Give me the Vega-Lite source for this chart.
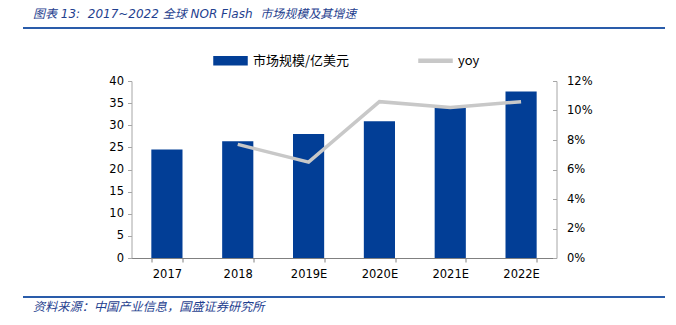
{
  "$schema": "https://vega.github.io/schema/vega-lite/v6.json",
  "padding": {"left": 22, "top": 8, "right": 8, "bottom": 4},
  "background": "white",
  "title": {
    "text": "图表 13:\u00a0 2017~2022 全球 NOR Flash\u00a0 市场规模及其增速",
    "anchor": "start",
    "dx": 11,
    "offset": 6,
    "font": "DejaVu Sans, Noto Sans CJK SC",
    "fontStyle": "italic",
    "fontWeight": "normal",
    "fontSize": 12,
    "color": "#1F3F8F"
  },
  "config": {
    "view": {"stroke": null},
    "font": "DejaVu Sans"
  },
  "bounds": "flush",
  "center": true,
  "spacing": 39,
  "vconcat": [
    {
      "width": 642,
      "height": 14,
      "data": {"values": [{"line": "header"}]},
      "mark": {"type": "rule", "color": "#2A5CAA", "strokeWidth": 2},
      "encoding": {
        "y": {"datum": 1, "type": "quantitative", "scale": {"domain": [0, 1]}, "axis": null}
      }
    },
    {
      "width": 425,
      "height": 177,
      "data": {
        "values": [
          {"year": "2017", "value": 24.5, "yoy": null},
          {"year": "2018", "value": 26.4, "yoy": 0.077},
          {"year": "2019E", "value": 28.0, "yoy": 0.065},
          {"year": "2020E", "value": 30.9, "yoy": 0.106},
          {"year": "2021E", "value": 34.2, "yoy": 0.102},
          {"year": "2022E", "value": 37.6, "yoy": 0.106}
        ]
      },
      "encoding": {
        "x": {
          "field": "year",
          "type": "nominal",
          "sort": null,
          "title": null,
          "scale": {"paddingInner": 0.56, "paddingOuter": 0.28},
          "axis": {
            "labelAngle": 0,
            "labelFont": "DejaVu Sans",
            "labelFontSize": 11.5,
            "labelColor": "#000000",
            "labelPadding": 6,
            "tickBand": "extent",
            "tickSize": 4,
            "tickColor": "#808080",
            "domainColor": "#808080"
          }
        }
      },
      "layer": [
        {
          "mark": {"type": "bar"},
          "encoding": {
            "y": {
              "field": "value",
              "type": "quantitative",
              "title": null,
              "scale": {"domain": [0, 40]},
              "axis": {
                "values": [0, 5, 10, 15, 20, 25, 30, 35, 40],
                "grid": false,
                "labelFont": "DejaVu Sans",
                "labelFontSize": 11.5,
                "labelColor": "#000000",
                "tickSize": 4,
                "labelPadding": 4,
                "tickColor": "#A6A6A6",
                "domainColor": "#A6A6A6"
              }
            },
            "color": {
              "datum": "市场规模/亿美元",
              "type": "nominal",
              "scale": {"domain": ["市场规模/亿美元", "yoy"], "range": ["#023E96", "#C8C8C8"]},
              "legend": {
                "orient": "none",
                "legendX": 190,
                "legendY": 15,
                "direction": "horizontal",
                "title": null,
                "padding": 0,
                "symbolSize": 1089,
                "columnPadding": 66,
                "labelOffset": 5,
                "labelFont": "Noto Sans CJK SC",
                "labelFontSize": 13,
                "labelColor": "#000000",
                "encode": {
                  "symbols": {
                    "update": {
                      "shape": {"signal": "datum.value === 'yoy' ? 'M-1,-0.09H1V0.09H-1Z' : 'M-1,-0.24H1V0.24H-1Z'"},
                      "fill": {"scale": "color", "field": "value"},
                      "stroke": {"value": "transparent"},
                      "opacity": {"value": 1}
                    }
                  }
                }
              }
            }
          }
        },
        {
          "mark": {"type": "line", "strokeWidth": 3.5},
          "encoding": {
            "y": {
              "field": "yoy",
              "type": "quantitative",
              "title": null,
              "scale": {"domain": [0, 0.12]},
              "axis": {
                "orient": "right",
                "values": [0, 0.02, 0.04, 0.06, 0.08, 0.1, 0.12],
                "format": ".0%",
                "grid": false,
                "labelFont": "DejaVu Sans",
                "labelFontSize": 11.5,
                "labelColor": "#000000",
                "tickSize": -4,
                "labelPadding": 14,
                "tickColor": "#A6A6A6",
                "domainColor": "#A6A6A6"
              }
            },
            "color": {"datum": "yoy", "type": "nominal"}
          }
        }
      ],
      "resolve": {"scale": {"y": "independent"}}
    },
    {
      "width": 642,
      "height": 2,
      "data": {"values": [{"line": "footer"}]},
      "title": {
        "text": "资料来源：中国产业信息，国盛证券研究所",
        "orient": "bottom",
        "anchor": "start",
        "dx": 11,
        "offset": 2,
        "font": "Noto Sans CJK SC",
        "fontStyle": "italic",
        "fontWeight": "normal",
        "fontSize": 12.2,
        "color": "#1F3F8F"
      },
      "mark": {"type": "rule", "color": "#2A5CAA", "strokeWidth": 2},
      "encoding": {
        "y": {"datum": 1, "type": "quantitative", "scale": {"domain": [0, 1]}, "axis": null}
      }
    }
  ]
}
